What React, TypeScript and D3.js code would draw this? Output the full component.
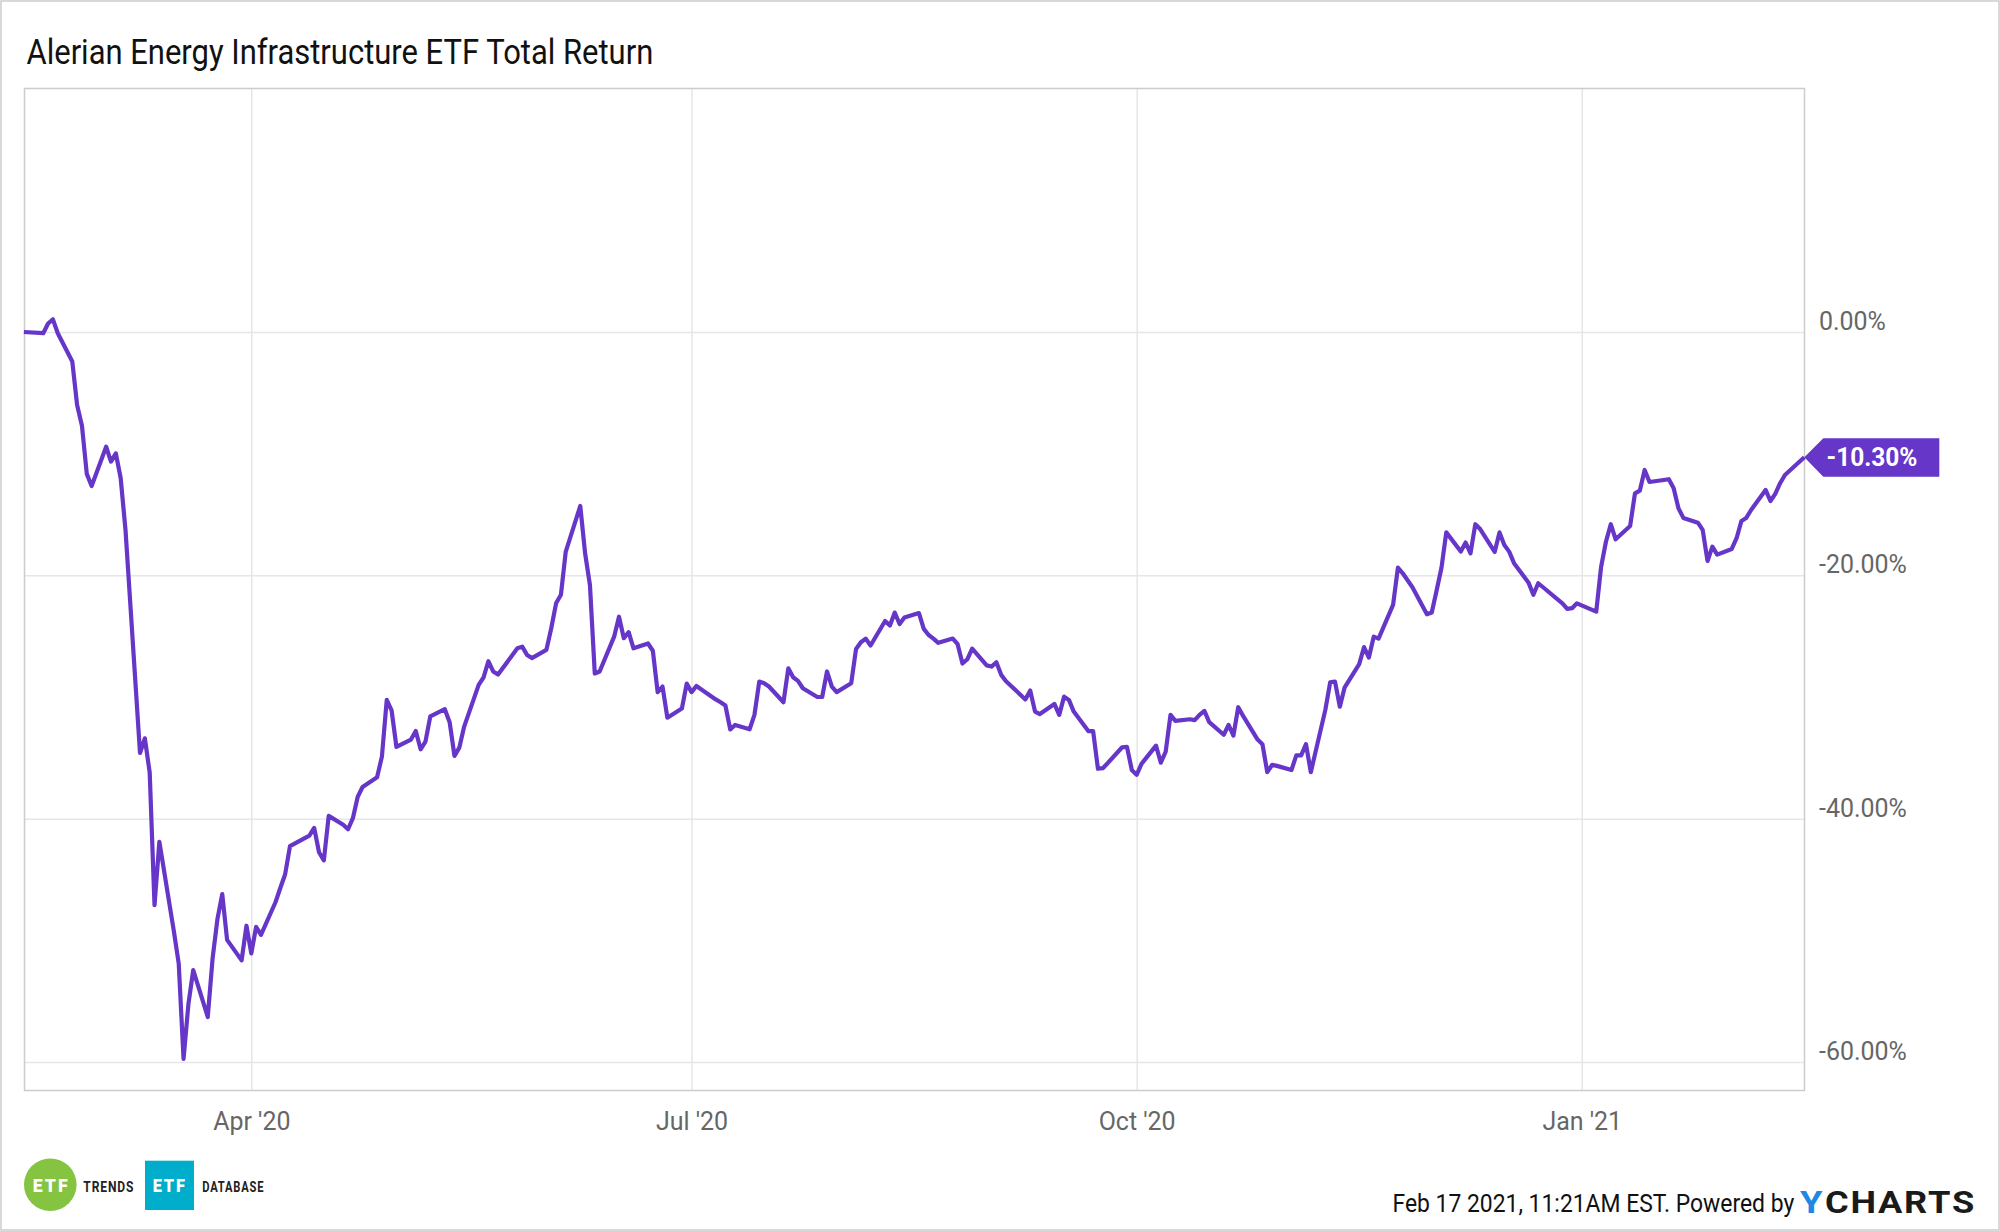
import { useEffect, useRef } from 'react';
import * as d3 from 'd3';

const title = 'Alerian Energy Infrastructure ETF Total Return';
const footer = 'Feb 17 2021, 11:21AM EST. Powered by';

// Calendar days after the first data point, trading days only
const startDate = new Date(Date.UTC(2020, 1, 14));
const endDate = new Date(Date.UTC(2021, 1, 16));

const tradingDays = [
  0, 4, 5, 6, 7, 10, 11, 12, 13, 14, 17, 18, 19, 20, 21, 24, 25, 26, 27, 28, 31, 32, 33, 34, 35,
  38, 39, 40, 41, 42, 45, 46, 47, 48, 49, 52, 53, 54, 55, 59, 60, 61, 62, 63, 66, 67, 68, 69, 70,
  73, 74, 75, 76, 77, 80, 81, 82, 83, 84, 87, 88, 89, 90, 91, 94, 95, 96, 97, 98, 102, 103, 104, 105,
  108, 109, 110, 111, 112, 115, 116, 117, 118, 119, 122, 123, 124, 125, 126, 129, 130, 131, 132, 133,
  136, 137, 138, 139, 143, 144, 145, 146, 147, 150, 151, 152, 153, 154, 157, 158, 159, 160, 161,
  164, 165, 166, 167, 168, 171, 172, 173, 174, 175, 178, 179, 180, 181, 182, 185, 186, 187, 188, 189,
  192, 193, 194, 195, 196, 199, 200, 201, 202, 203, 207, 208, 209, 210, 213, 214, 215, 216, 217,
  220, 221, 222, 223, 224, 227, 228, 229, 230, 231, 234, 235, 236, 237, 238, 241, 242, 243, 244, 245,
  248, 249, 250, 251, 252, 255, 256, 257, 258, 259, 262, 263, 264, 265, 266, 269, 270, 271, 272, 273,
  276, 277, 278, 279, 280, 283, 284, 285, 287, 290, 291, 292, 293, 294, 297, 298, 299, 300, 301,
  304, 305, 306, 307, 308, 311, 312, 313, 314, 318, 319, 320, 321, 325, 326, 327, 328, 329,
  332, 333, 334, 335, 336, 340, 341, 342, 343, 346, 347, 348, 349, 350, 353, 354, 355, 356, 357,
  360, 361, 362, 363, 364, 368,
];

const totalReturn = [
  0, -0.1, 0.7, 1.04, -0.1, -2.43, -6.0, -7.7, -11.66, -12.66, -9.43, -10.65, -9.98, -12.0, -16.27,
  -34.6, -33.4, -36.2, -47.1, -41.9, -49.26, -51.9, -59.74, -55.26, -52.45,
  -56.3, -51.5, -48.26, -46.2, -49.96, -51.65, -48.8, -51.07, -48.9, -49.55, -46.87, -45.7, -44.57, -42.26,
  -41.4, -40.76, -42.76, -43.43, -39.77, -40.5, -40.87, -39.96, -38.2, -37.4,
  -36.6, -34.9, -30.24, -31.1, -34.1, -33.5, -32.8, -34.3, -33.66, -31.6, -31.0, -32.07, -34.84, -34.16, -32.43,
  -29.0, -28.4, -27.06, -27.9, -28.16, -26.0, -25.86, -26.54, -26.8,
  -26.13, -24.35, -22.3, -21.6, -18.05, -14.3, -18.2, -20.8, -28.07, -27.9, -25.04, -23.4, -25.17, -24.67, -26.0,
  -25.6, -26.2, -29.6, -29.14, -31.7,
  -30.95, -28.9, -29.6, -29.1, -30.2, -30.43, -30.7, -32.67, -32.3, -32.65, -31.47, -28.73, -28.87, -29.14,
  -30.43, -27.64, -28.38, -28.68, -29.28,
  -30.0, -30.0, -27.9, -29.14, -29.6, -28.87, -26.05, -25.5, -25.2, -25.77, -23.75, -24.13, -23.06, -24.0, -23.47,
  -23.1, -24.4, -24.9, -25.2, -25.55,
  -25.2, -25.66, -27.25, -26.9, -26.02, -27.4, -27.5, -27.14, -28.18, -28.7, -30.2, -29.47, -31.2, -31.4,
  -30.57, -31.47, -29.97, -30.24, -31.2,
  -32.8, -32.8, -35.9, -35.85, -35.44, -34.13, -34.1, -36.0, -36.4, -35.5, -34.0, -35.4, -34.5, -31.47, -31.96,
  -31.83, -31.9, -31.47, -31.14, -32.07,
  -33.1, -32.3, -33.17, -30.84, -31.55, -33.5, -33.88, -36.18, -35.58, -35.66, -36.0, -34.8, -34.8, -33.88, -36.18,
  -31.06, -28.8, -28.73, -30.8, -29.2,
  -27.3, -25.9, -26.76, -25.04, -25.2, -22.43, -19.37, -19.83, -20.98, -23.2, -23.06, -21.25, -19.4, -16.47,
  -18.05, -17.3, -18.2, -15.8, -16.2,
  -18.08, -16.47, -17.5, -18.05, -19.0, -20.6, -21.6, -20.65, -20.98, -22.3, -22.76, -22.7, -22.3,
  -22.98, -19.3, -17.24, -15.8, -17.04,
  -15.94, -13.26, -13.04, -11.34, -12.33, -12.1, -12.85, -14.5, -15.28, -15.67, -16.27, -18.82, -17.64, -18.3,
  -17.83, -16.95, -15.53, -15.28, -14.63,
  -12.98, -13.89, -13.3, -12.43, -11.75, -10.3,
];

const yTicks = [0, -20, -40, -60];
const xTicks = [
  new Date(Date.UTC(2020, 3, 1)),
  new Date(Date.UTC(2020, 6, 1)),
  new Date(Date.UTC(2020, 9, 1)),
  new Date(Date.UTC(2021, 0, 1)),
];
const xTickLabels = ["Apr '20", "Jul '20", "Oct '20", "Jan '21"];

const lastLabel = '-10.30%';
const lineColor = '#6536c8';
const fontFamily = 'Roboto, sans-serif';

const App = () => {
  const svgRef = useRef<SVGSVGElement>(null);

  useEffect(() => {
    if (!svgRef.current) return;

    const svg = d3.select(svgRef.current);
    svg.selectAll('*').remove();

    const width = 2000;
    const height = 1231;
    const plot = { left: 24.5, right: 1804.5, top: 88.5, bottom: 1090.5 };

    const x = d3.scaleUtc().domain([startDate, endDate]).range([23.9, 1804.3]);
    const y = d3.scaleLinear().domain([0, -60]).range([332, 1062]);

    // squeeze tick text about its own x, the original face is narrower than plain Roboto
    const fit = (sel: any, factor: number) =>
      sel.each(function (this: SVGTextElement) {
        const tx = +(this.getAttribute('x') || 0);
        d3.select(this).attr('transform', `translate(${tx * (1 - factor)},0) scale(${factor},1)`);
      });

    // places a text so that it is exactly len wide
    const addText = (
      txt: string, tx: number, ty: number, size: number, len: number,
      fill: string, weight = 400, spacing = 0
    ) => {
      const t = svg.append('text')
        .attr('font-family', fontFamily)
        .attr('font-size', size)
        .attr('font-weight', weight)
        .attr('letter-spacing', spacing)
        .attr('fill', fill)
        .text(txt);
      const natural = (t.node() as SVGTextElement).getComputedTextLength();
      t.attr('transform', `translate(${tx},${ty}) scale(${len / natural},1)`);
      return t;
    };

    // outer border
    svg.append('rect')
      .attr('x', 1)
      .attr('y', 1)
      .attr('width', width - 2)
      .attr('height', height - 2)
      .attr('fill', '#fff')
      .attr('stroke', '#cccccc')
      .attr('stroke-width', 1.5);

    addText(title, 26.5, 64, 35, 627, '#111');

    // x axis with its grid lines
    const xAxis = d3.axisBottom<Date>(x)
      .tickValues(xTicks)
      .tickFormat((_, i) => xTickLabels[i])
      .tickSize(-(plot.bottom - plot.top));
    const xG = svg.append('g')
      .attr('transform', `translate(0,${plot.bottom})`)
      .call(xAxis as any);
    xG.select('.domain').remove();
    xG.selectAll('line').attr('stroke', '#e6e6e6').attr('stroke-width', 1.5);
    xG.selectAll('text')
      .attr('y', 39.5)
      .attr('dy', 0)
      .attr('font-family', fontFamily)
      .attr('font-size', 26)
      .attr('fill', '#666')
      .call(fit, 0.96);

    // y axis with its grid lines
    const yAxis = d3.axisRight(y)
      .tickValues(yTicks)
      .tickFormat(d => `${(+d).toFixed(2)}%`)
      .tickSize(-(plot.right - plot.left))
      .tickPadding(14.5);
    const yG = svg.append('g')
      .attr('transform', `translate(${plot.right},0)`)
      .call(yAxis as any);
    yG.select('.domain').remove();
    yG.selectAll('line').attr('stroke', '#e6e6e6').attr('stroke-width', 1.5);
    yG.selectAll('text')
      .attr('dy', -2.5)
      .attr('font-family', fontFamily)
      .attr('font-size', 26)
      .attr('fill', '#666')
      .call(fit, 0.96);

    // plot frame
    svg.append('rect')
      .attr('x', plot.left)
      .attr('y', plot.top)
      .attr('width', plot.right - plot.left)
      .attr('height', plot.bottom - plot.top)
      .attr('fill', 'none')
      .attr('stroke', '#cccccc')
      .attr('stroke-width', 1.5);

    // return line
    const line = d3.line<number>()
      .x(d => x(d3.utcDay.offset(startDate, d)))
      .y((_, i) => y(totalReturn[i]));
    svg.append('path')
      .datum(tradingDays)
      .attr('d', line)
      .attr('fill', 'none')
      .attr('stroke', lineColor)
      .attr('stroke-width', 4.2)
      .attr('stroke-linejoin', 'round')
      .attr('stroke-linecap', 'butt');

    // end of line label
    const endX = x(endDate);
    const endY = y(totalReturn[totalReturn.length - 1]);
    const tag = d3.path();
    tag.moveTo(endX, endY);
    tag.lineTo(endX + 19, endY - 19);
    tag.lineTo(endX + 135, endY - 19);
    tag.lineTo(endX + 135, endY + 19.5);
    tag.lineTo(endX + 19, endY + 19.5);
    tag.closePath();
    svg.append('path').attr('d', tag.toString()).attr('fill', lineColor);
    addText(lastLabel, 1826.5, endY + 9, 26, 91, '#fff', 700);

    // footer
    addText(footer, 1392.5, 1212.3, 26.5, 402, '#111');
    addText('Y', 1800, 1212.7, 31, 22.5, '#1e88e5', 700);
    addText('CHARTS', 1825, 1212.7, 31, 151, '#1a1a1a', 700, 1.5);

    // ETF Trends logo
    svg.append('circle')
      .attr('cx', 50.3)
      .attr('cy', 1184.7)
      .attr('r', 26.3)
      .attr('fill', '#84c441');
    addText('ETF', 32.7, 1192.3, 17.5, 37, '#fff', 900, 2);
    addText('TRENDS', 83.3, 1192.3, 14, 51, '#222', 700, 1);

    // ETF Database logo
    svg.append('rect')
      .attr('x', 145)
      .attr('y', 1160.7)
      .attr('width', 49)
      .attr('height', 49.3)
      .attr('fill', '#00adcb');
    addText('ETF', 152.7, 1191.7, 17.5, 34, '#fff', 900, 2);
    addText('DATABASE', 202.3, 1192, 14, 62, '#222', 700, 1);
  }, []);

  return (
    <svg
      ref={svgRef}
      width={2000}
      height={1231}
      style={{ position: 'absolute', left: 0, top: 0, background: '#fff' }}
    />
  );
};

export default App;
